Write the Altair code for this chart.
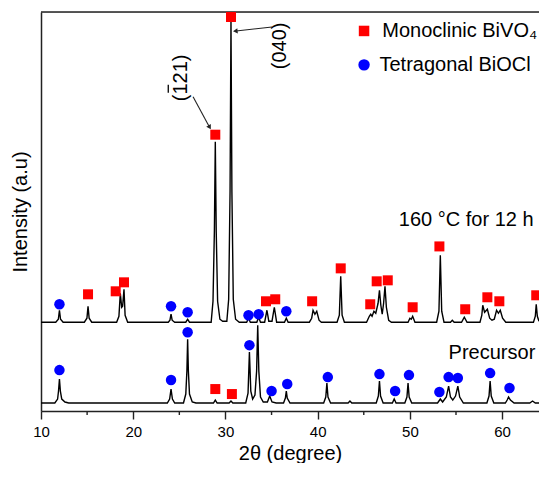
import altair as alt
import pandas as pd

# ---- spectra (x = 2theta in degree, y = intensity, arbitrary units) ----
top_x = [10.0, 11.6, 11.88, 12.0, 12.12, 12.4,
         14.7, 14.98, 15.1, 15.22, 15.5,
         18.2, 18.45, 18.6, 18.75, 18.85, 19.0, 19.12, 19.4,
         23.8, 23.98, 24.1, 24.22, 24.5,
         25.7, 25.9, 26.1,
         28.45, 28.65, 28.8, 28.9, 29.0, 29.15, 29.4, 29.7,
         30.15, 30.35, 30.5, 30.6, 30.7, 30.85, 31.1, 31.5,
         32.3, 32.5, 32.7,
         33.4, 33.6, 33.8,
         34.25, 34.5, 34.7, 35.05, 35.3, 35.55,
         36.4, 36.6, 36.8,
         39.1, 39.35, 39.5, 39.7, 39.9, 40.15, 40.4,
         42.1, 42.35, 42.5, 42.65, 42.9,
         45.3, 45.6, 45.75, 45.9, 46.1, 46.3, 46.55, 46.7, 46.85, 47.0, 47.15, 47.3, 47.45, 47.7, 48.0,
         49.8, 50.0, 50.15, 50.3, 50.55,
         52.9, 53.15, 53.3, 53.45, 53.7,
         54.4, 54.6, 54.8,
         55.6, 55.9, 56.2,
         57.6, 57.8, 57.9, 58.1, 58.4, 58.65, 58.9, 59.15, 59.4, 59.6, 59.8, 60.05, 60.4,
         63.4, 63.6, 63.7, 63.82, 64.0]
top_y = [89, 89, 92, 101, 92, 89,
         89, 93, 105, 93, 89,
         89, 95, 118, 104, 105, 122, 96, 89,
         89, 91, 97, 91, 89,
         89, 92, 89,
         89, 110, 180, 270, 180, 110, 92, 90,
         90, 112, 220, 391, 220, 112, 92, 89,
         89, 93, 89,
         89, 94, 89,
         89, 101, 90, 90, 104, 89,
         89, 93, 89,
         89, 93, 101, 97, 100, 91, 89,
         89, 96, 135, 96, 89,
         89, 95, 97, 95, 100, 98, 108, 121, 106, 97, 108, 125, 104, 91, 89,
         89, 93, 92, 95, 89,
         89, 100, 156, 100, 89,
         89, 91, 89,
         89, 94, 89,
         89, 96, 106, 99, 102, 93, 91, 92, 101, 98, 101, 93, 89,
         89, 95, 107, 95, 90]

bot_x = [10.0, 11.5, 11.8, 11.9, 12.0, 12.1, 12.25, 12.6, 13.0,
         23.7, 23.95, 24.1, 24.25, 24.5,
         25.45, 25.7, 25.82, 25.9, 25.98, 26.1, 26.4, 26.8,
         28.7, 28.9, 29.1,
         30.4, 30.6, 30.8,
         32.2, 32.45, 32.6, 32.75, 32.95, 33.2, 33.38, 33.5, 33.62, 33.8, 34.1,
         34.55, 34.8, 35.05, 35.5,
         36.3, 36.5, 36.6, 36.7, 37.0,
         40.65, 40.88, 41.0, 41.12, 41.4,
         43.3, 43.5, 43.7,
         46.35, 46.58, 46.7, 46.82, 47.1,
         48.1, 48.3, 48.5,
         49.45, 49.68, 49.8, 49.92, 50.2,
         53.0, 53.3, 53.55, 53.95, 54.2, 54.4, 54.65, 54.95, 55.2, 55.4, 55.8,
         58.35, 58.58, 58.7, 58.82, 59.1,
         60.35, 60.55, 60.7, 60.9, 61.3,
         63.0, 63.3, 63.6, 64.0]
bot_y = [8, 8, 12, 20, 32, 20, 12, 9, 8,
         8, 12, 22, 12, 8,
         8, 17, 40, 72, 40, 17, 9, 8,
         8, 11, 8,
         8, 10, 8,
         8, 18, 59, 20, 12, 16, 40, 86, 40, 14, 9,
         9, 15, 9, 8,
         8, 13, 20, 13, 8,
         8, 14, 28, 14, 8,
         8, 10, 8,
         8, 15, 30, 15, 8,
         8, 12, 8,
         8, 14, 28, 14, 8,
         8, 12, 9, 14, 25, 14, 11, 15, 25, 14, 8,
         8, 15, 30, 15, 8,
         8, 11, 14, 11, 8,
         8, 10, 8, 8]

# ---- phase markers ----
sq_top_x = [15.1, 18.1, 19.0, 28.9, 30.6, 34.4, 35.4, 39.4, 42.5, 45.7, 46.4, 47.6, 50.3, 53.2, 56.0, 58.4, 59.7, 63.7]
sq_top_y = [117, 120, 129, 277, 395, 110, 112, 110, 143, 107, 130, 131, 104, 165, 102, 114, 110, 116]
ci_top_x = [12.0, 24.1, 25.9, 32.5, 33.6, 36.6]
ci_top_y = [107, 105, 99, 96, 97, 100]
sq_bot_x = [28.9, 30.7]
sq_bot_y = [22, 17]
ci_bot_x = [12.0, 24.1, 25.9, 32.6, 35.0, 36.7, 41.1, 46.7, 48.4, 49.9, 53.2, 54.2, 55.2, 58.7, 60.8]
ci_bot_y = [41, 31, 79, 66, 20, 27, 34, 37, 20, 36, 19, 34, 33, 38, 23]

x_ticks = [10, 20, 30, 40, 50, 60]
x_minor = [15, 25, 35, 45, 55]

# ---- annotations ----
hkl_text = ["(121)", "(040)"]
hkl_x = [25.18, 35.92]
hkl_y = [334, 366]
bar_x = [23.80]
bar_y = [327]
bar_y2 = [319]
arrow_x = [26.49, 35.05]
arrow_y = [315, 385]
arrow_x2 = [28.25, 31.15]
arrow_y2 = [285, 381]
arrow_angle = [150, 264]

legend_labels = ["Monoclinic BiVO\u2084", "Tetragonal BiOCl"]
legend_sym_x = [45.03, 45.03]
legend_sym_y = [381, 347]
legend_txt_x = [47.0, 46.7]

sample_labels = ["160 \u00b0C for 12 h", "Precursor"]
sample_x = [48.8, 54.2]
sample_y = [191, 58]

W, H = 498, 399
FONT = "Liberation Sans"
AX = "#222222"

xs = alt.Scale(domain=[10, 64], nice=False, zero=False)
ys = alt.Scale(domain=[0, 400], nice=False, zero=False)

x_axis = alt.Axis(
    values=x_ticks, title="2\u03b8 (degree)", format="d", grid=False, labelFlush=False,
    labelFontSize=15, labelFont=FONT, labelColor="black", labelPadding=5,
    tickSize=8, tickWidth=1.4, tickColor=AX,
    domainColor=AX, domainWidth=1.5,
    titleFontSize=20, titleFont=FONT, titleFontWeight="normal", titleColor="black",
    titlePadding=4)
y_axis = alt.Axis(
    title="Intensity (a.u)", labels=False, ticks=False, grid=False,
    domainColor=AX, domainWidth=1.5,
    titleFontSize=20, titleFont=FONT, titleFontWeight="normal", titleColor="black",
    titlePadding=11)


def X(f):
    return alt.X(f, type="quantitative", scale=xs, axis=x_axis)


def Y(f):
    return alt.Y(f, type="quantitative", scale=ys, axis=y_axis)


line_df = pd.DataFrame({
    "x": top_x + bot_x,
    "y": top_y + bot_y,
    "s": ["top"] * len(top_x) + ["bot"] * len(bot_x),
})

lines = alt.Chart(line_df).mark_line(color="black", strokeWidth=1.4).encode(
    x=X("x"), y=Y("y"), detail="s:N")

sq_df = pd.DataFrame({"x": sq_top_x + sq_bot_x, "y": sq_top_y + sq_bot_y})
ci_df = pd.DataFrame({"x": ci_top_x + ci_bot_x, "y": ci_top_y + ci_bot_y})

squares = alt.Chart(sq_df).mark_square(color="#ff0000", size=100, opacity=1).encode(x=X("x"), y=Y("y"))
circles = alt.Chart(ci_df).mark_circle(color="#0000ff", size=110, opacity=1).encode(x=X("x"), y=Y("y"))

minor = alt.Chart(pd.DataFrame({"x": x_minor})).mark_rule(color=AX, strokeWidth=1.4).encode(
    x=X("x"), y=alt.value(H), y2=alt.value(H + 4))

frame_top = alt.Chart(pd.DataFrame({"x": [0]})).mark_rule(color=AX, strokeWidth=1.5).encode(
    x=alt.value(0), x2=alt.value(W), y=alt.value(0))

hkl = alt.Chart(pd.DataFrame({"x": hkl_x, "y": hkl_y, "t": hkl_text})).mark_text(
    angle=270, fontSize=20, font=FONT, color="black", align="center", baseline="middle").encode(
    x=X("x"), y=Y("y"), text="t:N")

bar = alt.Chart(pd.DataFrame({"x": bar_x, "y": bar_y, "y2": bar_y2})).mark_rule(
    color="black", strokeWidth=1.3).encode(x=X("x"), y=Y("y"), y2="y2:Q")

arr_df = pd.DataFrame({"x": arrow_x, "y": arrow_y, "x2": arrow_x2, "y2": arrow_y2, "a": arrow_angle})
arrows = alt.Chart(arr_df).mark_rule(color="#222222", strokeWidth=1.1).encode(
    x=X("x"), y=Y("y"), x2="x2:Q", y2="y2:Q")
heads = alt.Chart(arr_df).mark_point(shape="triangle", filled=True, color="#222222", size=28, opacity=1).encode(
    x=X("x2"), y=Y("y2"), angle=alt.Angle("a:Q", scale=None))

leg_df = pd.DataFrame({"x": legend_sym_x, "y": legend_sym_y, "tx": legend_txt_x, "t": legend_labels})
leg_sq = alt.Chart(leg_df.iloc[[0]]).mark_square(color="#ff0000", size=110, opacity=1).encode(x=X("x"), y=Y("y"))
leg_ci = alt.Chart(leg_df.iloc[[1]]).mark_circle(color="#0000ff", size=130, opacity=1).encode(x=X("x"), y=Y("y"))
leg_txt = alt.Chart(leg_df).mark_text(fontSize=20, font=FONT, color="black", align="left", baseline="middle").encode(
    x=X("tx"), y=Y("y"), text="t:N")

samp = alt.Chart(pd.DataFrame({"x": sample_x, "y": sample_y, "t": sample_labels})).mark_text(
    fontSize=20, font=FONT, color="black", align="left", baseline="middle").encode(
    x=X("x"), y=Y("y"), text="t:N")

chart = alt.layer(
    lines, minor, frame_top, squares, circles, hkl, bar, arrows, heads, leg_sq, leg_ci, leg_txt, samp
).properties(
    width=W, height=H,
    autosize=alt.AutoSizeParams(type="none"),
    padding={"left": 33, "top": 4, "right": 0, "bottom": 52},
).configure_view(stroke=None).configure(background="white")

chart.save("out.html", embed_options={"renderer": "svg", "actions": False})
